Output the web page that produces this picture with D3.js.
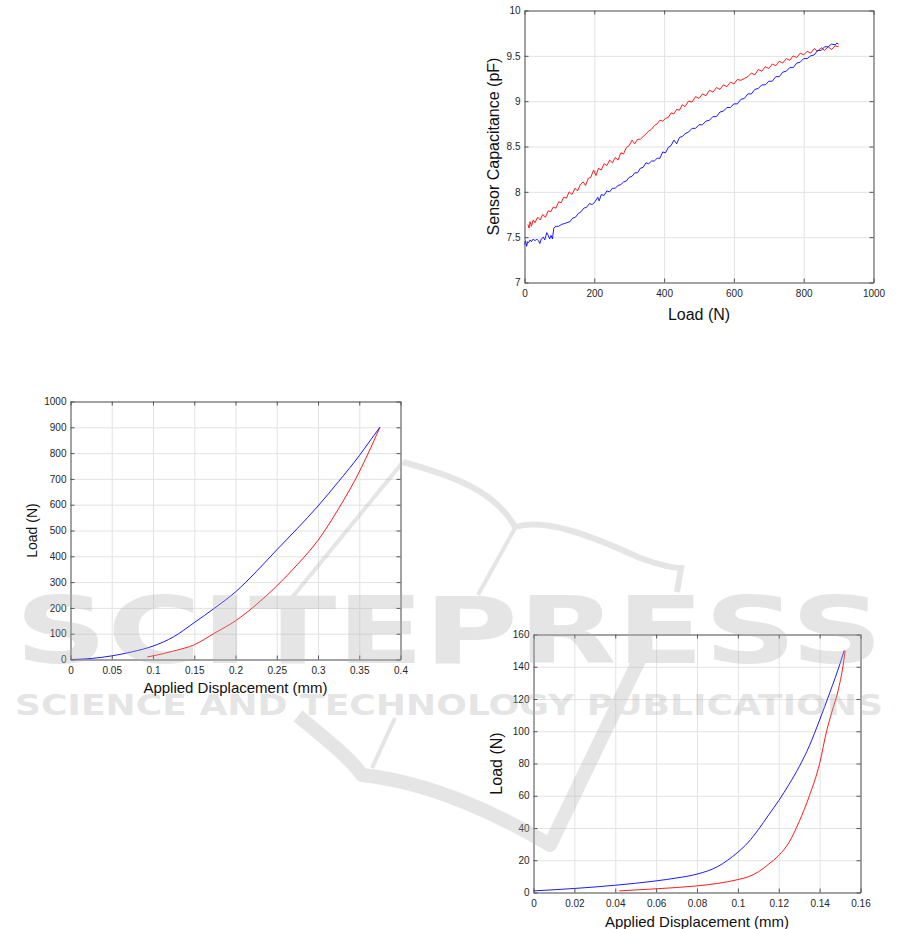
<!DOCTYPE html>
<html>
<head>
<meta charset="utf-8">
<script src="https://cdn.jsdelivr.net/npm/d3@7/dist/d3.min.js"></script>
<style>
  html, body { margin: 0; padding: 0; background: #ffffff; }
  svg { display: block; font-family: "Liberation Sans", Arial, Helvetica, sans-serif; }
</style>
</head>
<body>
<svg id="chart" width="901" height="929"></svg>
<script>
// ---------------- DATA ----------------
// Chart A: Sensor capacitance vs load
const capRedLoad = [10,13,16,20,25,30,38,45,52,60,68,75,82,90,98,105,112,120,128,136,145,152,160,168,175,183,190,198,205,212,220,228,236,244,252,260,268,276,284,292,300,308,316,324,332,340,348,356,364,372,380,388,396,404,412,420,428,436,444,452,460,470,480,490,500,510,520,530,540,550,560,570,580,590,600,610,620,630,640,650,660,670,680,690,700,710,720,730,740,750,760,770,780,790,800,810,820,830,840,850,860,870,880,890,900];
const capRedVal  = [7.64,7.60,7.67,7.62,7.69,7.66,7.72,7.69,7.75,7.72,7.79,7.78,7.83,7.82,7.89,7.88,7.94,7.93,8.00,7.97,8.04,8.01,8.08,8.11,8.07,8.15,8.16,8.24,8.18,8.26,8.24,8.31,8.29,8.35,8.32,8.38,8.35,8.43,8.42,8.49,8.51,8.57,8.53,8.58,8.58,8.61,8.64,8.67,8.69,8.73,8.75,8.79,8.78,8.81,8.82,8.87,8.86,8.91,8.90,8.96,8.94,9.00,8.99,9.05,9.03,9.08,9.06,9.12,9.10,9.15,9.13,9.18,9.16,9.21,9.19,9.24,9.23,9.25,9.27,9.31,9.29,9.35,9.33,9.38,9.36,9.41,9.39,9.44,9.42,9.47,9.45,9.50,9.48,9.53,9.51,9.55,9.53,9.58,9.55,9.59,9.56,9.60,9.57,9.61,9.60];
const capBlueLoad = [0,3,6,9,12,16,20,25,30,35,40,44,48,54,58,64,68,72,76,80,84,90,98,106,114,122,130,138,146,154,162,170,178,186,194,202,210,214,220,228,236,244,252,260,268,276,284,292,300,308,316,324,332,340,348,356,364,372,380,388,396,404,412,420,428,436,444,452,460,470,480,490,500,510,520,530,540,550,560,570,580,590,600,610,620,630,640,650,660,670,680,690,700,710,720,730,740,750,760,770,780,790,800,810,820,830,840,850,860,870,880,890,895,900];
const capBlueVal  = [7.42,7.46,7.40,7.45,7.44,7.47,7.45,7.48,7.46,7.48,7.46,7.43,7.48,7.50,7.47,7.55,7.52,7.48,7.52,7.48,7.60,7.62,7.62,7.64,7.65,7.66,7.67,7.71,7.72,7.76,7.78,7.82,7.83,7.87,7.86,7.89,7.94,7.90,7.97,7.96,8.01,8.00,8.04,8.04,8.07,8.08,8.11,8.12,8.16,8.17,8.21,8.21,8.26,8.27,8.32,8.31,8.34,8.34,8.37,8.37,8.44,8.43,8.49,8.51,8.57,8.53,8.60,8.61,8.64,8.66,8.70,8.70,8.74,8.74,8.78,8.79,8.83,8.83,8.88,8.89,8.93,8.93,8.97,8.97,9.02,9.03,9.08,9.08,9.13,9.14,9.18,9.18,9.22,9.22,9.27,9.27,9.32,9.33,9.37,9.37,9.42,9.43,9.47,9.47,9.50,9.51,9.56,9.56,9.60,9.60,9.63,9.62,9.64,9.63];
const capXTicks = [0,200,400,600,800,1000];
const capXLabels = ["0","200","400","600","800","1000"];
const capYTicks = [7,7.5,8,8.5,9,9.5,10];
const capYLabels = ["7","7.5","8","8.5","9","9.5","10"];

// Chart B: Load vs applied displacement (large)
const dispBlueX = [0,0.01,0.025,0.05,0.075,0.1,0.125,0.15,0.175,0.2,0.225,0.25,0.275,0.3,0.325,0.35,0.362,0.375];
const dispBlueY = [0,1,4,14,30,52,88,143,200,262,340,425,508,595,690,790,843,900];
const dispRedX = [0.093,0.1,0.125,0.15,0.175,0.2,0.225,0.25,0.275,0.3,0.325,0.35,0.361,0.375];
const dispRedY = [10,14,33,57,103,150,212,285,368,462,585,727,800,900];
const dispXTicks = [0,0.05,0.1,0.15,0.2,0.25,0.3,0.35,0.4];
const dispXLabels = ["0","0.05","0.1","0.15","0.2","0.25","0.3","0.35","0.4"];
const dispYTicks = [0,100,200,300,400,500,600,700,800,900,1000];
const dispYLabels = ["0","100","200","300","400","500","600","700","800","900","1000"];

// Chart C: Load vs applied displacement (small)
const smBlueX = [0,0.02,0.04,0.06,0.07,0.08,0.09,0.095,0.1,0.105,0.11,0.115,0.12,0.125,0.13,0.135,0.14,0.145,0.15,0.152];
const smBlueY = [1,2.5,4.5,7.2,9,11.4,16,20,25,31,39,48,57,67,78,91,107,124,142,150];
const smRedX = [0.042,0.06,0.08,0.09,0.1,0.105,0.11,0.115,0.12,0.125,0.13,0.135,0.14,0.1434,0.146,0.149,0.1515,0.1525];
const smRedY = [1,2.3,4.1,5.6,8,9.7,12.8,17.5,23,31,44,60,80,100,112,125,141,150];
const smXTicks = [0,0.02,0.04,0.06,0.08,0.1,0.12,0.14,0.16];
const smXLabels = ["0","0.02","0.04","0.06","0.08","0.1","0.12","0.14","0.16"];
const smYTicks = [0,20,40,60,80,100,120,140,160];
const smYLabels = ["0","20","40","60","80","100","120","140","160"];

// ---------------- DRAWING ----------------
const svg = d3.select("#chart");
const TXT = "#262626", AX = "#555555", GRID = "#e3e3e3";

function drawChart(c) {
  const x = d3.scaleLinear().domain(c.xDomain).range([c.left, c.right]);
  const y = d3.scaleLinear().domain(c.yDomain).range([c.bottom, c.top]);
  const g = svg.append("g");
  const h = c.bottom - c.top, w = c.right - c.left;

  // grid
  g.append("g").attr("transform", `translate(0,${c.bottom})`)
    .call(d3.axisBottom(x).tickValues(c.xTicks).tickSize(-h).tickFormat(""))
    .call(s => s.select(".domain").remove())
    .call(s => s.selectAll("line").attr("stroke", GRID));
  g.append("g").attr("transform", `translate(${c.left},0)`)
    .call(d3.axisLeft(y).tickValues(c.yTicks).tickSize(-w).tickFormat(""))
    .call(s => s.select(".domain").remove())
    .call(s => s.selectAll("line").attr("stroke", GRID));

  // lines
  const line = d3.line().x(d => x(d[0])).y(d => y(d[1])).curve(c.curve || d3.curveLinear);
  c.series.forEach(s => {
    g.append("path")
      .datum(s.xs.map((v, i) => [v, s.ys[i]]))
      .attr("fill", "none").attr("stroke", s.color)
      .attr("stroke-width", 0.9).attr("stroke-linejoin", "round")
      .attr("d", line);
  });

  // axes with inward ticks
  const styleAxis = s => {
    s.select(".domain").attr("stroke", AX);
    s.selectAll(".tick line").attr("stroke", AX);
    s.selectAll("text").attr("fill", TXT).attr("font-size", 10)
      .attr("font-family", "'Liberation Sans', Arial, sans-serif");
  };
  g.append("g").attr("transform", `translate(0,${c.bottom})`)
    .call(d3.axisBottom(x).tickValues(c.xTicks).tickSize(-4).tickSizeOuter(0).tickPadding(7)
      .tickFormat((d, i) => c.xLabels[i]))
    .call(styleAxis);
  g.append("g").attr("transform", `translate(0,${c.top})`)
    .call(d3.axisTop(x).tickValues(c.xTicks).tickSize(-4).tickSizeOuter(0).tickFormat(""))
    .call(styleAxis);
  g.append("g").attr("transform", `translate(${c.left},0)`)
    .call(d3.axisLeft(y).tickValues(c.yTicks).tickSize(-4).tickSizeOuter(0).tickPadding(4)
      .tickFormat((d, i) => c.yLabels[i]))
    .call(styleAxis);
  g.append("g").attr("transform", `translate(${c.right},0)`)
    .call(d3.axisRight(y).tickValues(c.yTicks).tickSize(-4).tickSizeOuter(0).tickFormat(""))
    .call(styleAxis);

  // labels
  g.append("text").attr("x", (c.left + c.right) / 2).attr("y", c.xLabelY)
    .attr("text-anchor", "middle").attr("font-size", c.xLabelSize).attr("fill", "#111")
    .text(c.xTitle);
  g.append("text")
    .attr("transform", `translate(${c.yLabelX},${(c.top + c.bottom) / 2}) rotate(-90)`)
    .attr("text-anchor", "middle").attr("dominant-baseline", "central")
    .attr("font-size", c.yLabelSize).attr("fill", "#111")
    .text(c.yTitle);
}

drawChart({
  left: 524.5, right: 873.5, top: 10.5, bottom: 282.5,
  xDomain: [0, 1000], yDomain: [7, 10],
  xTicks: capXTicks, xLabels: capXLabels, yTicks: capYTicks, yLabels: capYLabels,
  series: [
    { xs: capRedLoad, ys: capRedVal, color: "#ff0000" },
    { xs: capBlueLoad, ys: capBlueVal, color: "#0000ff" }
  ],
  xTitle: "Load (N)", xLabelY: 319.5, xLabelSize: 16,
  yTitle: "Sensor Capacitance (pF)", yLabelX: 493, yLabelSize: 16
});

drawChart({
  left: 70.5, right: 400.5, top: 401.5, bottom: 659.5,
  xDomain: [0, 0.4], yDomain: [0, 1000],
  xTicks: dispXTicks, xLabels: dispXLabels, yTicks: dispYTicks, yLabels: dispYLabels,
  curve: d3.curveMonotoneX,
  series: [
    { xs: dispRedX, ys: dispRedY, color: "#ff0000" },
    { xs: dispBlueX, ys: dispBlueY, color: "#0000ff" }
  ],
  xTitle: "Applied Displacement (mm)", xLabelY: 693, xLabelSize: 15,
  yTitle: "Load (N)", yLabelX: 32, yLabelSize: 14
});

drawChart({
  left: 533.5, right: 860.5, top: 634.5, bottom: 892.5,
  xDomain: [0, 0.16], yDomain: [0, 160],
  xTicks: smXTicks, xLabels: smXLabels, yTicks: smYTicks, yLabels: smYLabels,
  curve: d3.curveMonotoneX,
  series: [
    { xs: smRedX, ys: smRedY, color: "#ff0000" },
    { xs: smBlueX, ys: smBlueY, color: "#0000ff" }
  ],
  xTitle: "Applied Displacement (mm)", xLabelY: 926.5, xLabelSize: 15,
  yTitle: "Load (N)", yLabelX: 496, yLabelSize: 16
});

// ---------------- WATERMARK (decoration) ----------------
const wm = svg.append("g").attr("opacity", 0.32).attr("pointer-events", "none");
const wmStroke = "#b0b0b0";
wm.append("path").attr("d", "M403,462 L290,600").attr("stroke", wmStroke).attr("stroke-width", 4).attr("fill", "none");
wm.append("path").attr("d", "M403,462 C450,475 495,490 515,527 C545,518 590,535 640,558 C660,565 675,568 681,568 L677,592")
  .attr("stroke", wmStroke).attr("stroke-width", 6).attr("fill", "none");
wm.append("path").attr("d", "M515,528 L478,595").attr("stroke", wmStroke).attr("stroke-width", 4).attr("fill", "none");
wm.append("path").attr("d", "M298,716 C325,738 350,758 362,775 C430,782 500,815 550,845 L643,652")
  .attr("stroke", wmStroke).attr("stroke-width", 14).attr("fill", "none").attr("stroke-linejoin", "round");
wm.append("path").attr("d", "M395,718 L372,768").attr("stroke", wmStroke).attr("stroke-width", 4).attr("fill", "none");
wm.append("text").attr("x", 15).attr("y", 663)
  .attr("textLength", 868).attr("lengthAdjust", "spacingAndGlyphs")
  .attr("font-size", 92).attr("font-weight", "bold").attr("fill", wmStroke)
  .attr("font-family", "'DejaVu Sans', sans-serif")
  .text("SCITEPRESS");
wm.append("text").attr("x", 15).attr("y", 715)
  .attr("textLength", 868).attr("lengthAdjust", "spacingAndGlyphs")
  .attr("font-size", 28).attr("font-weight", "bold").attr("fill", wmStroke)
  .attr("font-family", "'DejaVu Sans', sans-serif")
  .text("SCIENCE AND TECHNOLOGY PUBLICATIONS");
</script>
</body>
</html>
